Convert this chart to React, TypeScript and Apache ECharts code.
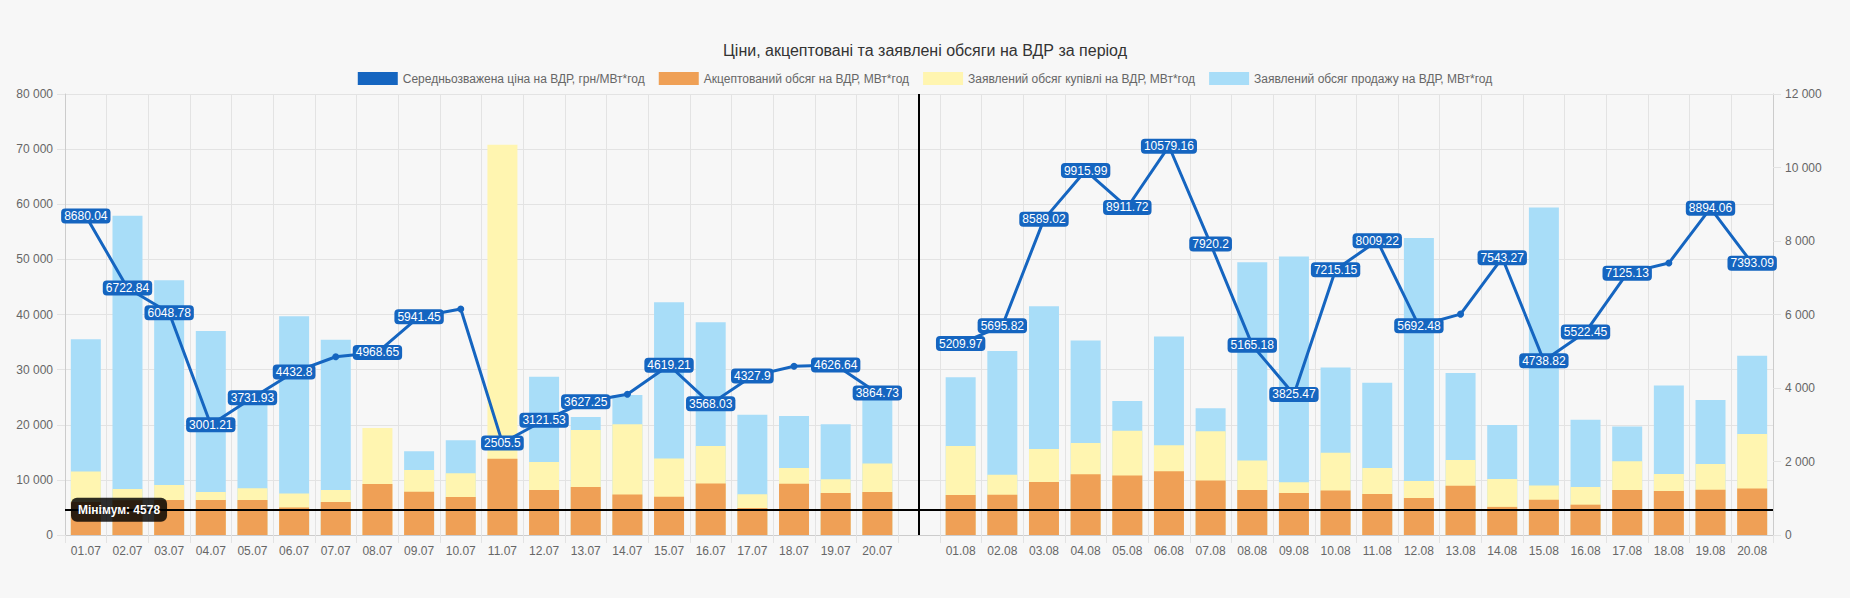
import * as echarts from "echarts";
import React, { useEffect, useRef } from "react";

const days = [
  "01.07", "02.07", "03.07", "04.07", "05.07", "06.07", "07.07", "08.07", "09.07", "10.07",
  "11.07", "12.07", "13.07", "14.07", "15.07", "16.07", "17.07", "18.07", "19.07", "20.07",
  "",
  "01.08", "02.08", "03.08", "04.08", "05.08", "06.08", "07.08", "08.08", "09.08", "10.08",
  "11.08", "12.08", "13.08", "14.08", "15.08", "16.08", "17.08", "18.08", "19.08", "20.08",
];

// середньозважена ціна, грн/МВт*год
const price = [
  8680.04, 6722.84, 6048.78, 3001.21, 3731.93, 4432.8, 4850, 4968.65, 5941.45, 6150,
  2505.5, 3121.53, 3627.25, 3830, 4619.21, 3568.03, 4327.9, 4590, 4626.64, 3864.73,
  null,
  5209.97, 5695.82, 8589.02, 9915.99, 8911.72, 10579.16, 7920.2, 5165.18, 3825.47, 7215.15,
  8009.22, 5692.48, 6010, 7543.27, 4738.82, 5522.45, 7125.13, 7400, 8894.06, 7393.09,
];
// points whose value label is not shown
const priceNoLabel = ["07.07", "10.07", "14.07", "18.07", "13.08", "18.08"];

const accepted = [
  6000, 6300, 6350, 6350, 6350, 5000, 6000, 9250, 7850, 6900,
  13850, 8150, 8700, 7350, 6950, 9350, 4900, 9300, 7600, 7800,
  null,
  7250, 7300, 9600, 11000, 10800, 11550, 9900, 8150, 7600, 8050,
  7450, 6700, 8950, 5100, 6400, 5500, 8150, 8000, 8200, 8450,
];

const buy = [
  11500, 8350, 9050, 7800, 8500, 7550, 8150, 19400, 11800, 11200,
  70800, 13250, 19050, 20100, 13900, 16150, 7400, 12150, 10100, 12950,
  null,
  16150, 10950, 15600, 16700, 18900, 16300, 18800, 13500, 9550, 14900,
  12150, 9800, 13600, 10150, 9000, 8700, 13400, 11050, 12900, 18300,
];

const sell = [
  35500, 57900, 46200, 37000, 25000, 39700, 35400, null, 15200, 17200,
  null, 28700, 21400, 25400, 42200, 38600, 21800, 21600, 20100, 26000,
  null,
  28600, 33400, 41500, 35300, 24300, 36000, 23000, 49500, 50500, 30400,
  27600, 53900, 29400, 19950, 59400, 20900, 19700, 27100, 24500, 32500,
];

const minVolume = 4578;

const names = [
  "Середньозважена ціна на ВДР, грн/МВт*год",
  "Акцептований обсяг на ВДР, МВт*год",
  "Заявлений обсяг купівлі на ВДР, МВт*год",
  "Заявлений обсяг продажу на ВДР, МВт*год",
];

const fontFamily = "'Liberation Sans', Arial, sans-serif";
const gridColor = "#e3e3e3";

const spaced = (v: number) => String(v).replace(/\B(?=(\d{3})+(?!\d))/g, " ");

const App: React.FC = () => {
  const chartRef = useRef<HTMLDivElement | null>(null);

  useEffect(() => {
    document.body.style.margin = "0";
    if (!chartRef.current) return;
    const chart = echarts.init(chartRef.current, undefined, { renderer: "svg" });

    const option: echarts.EChartsOption = {
      animation: false,
      backgroundColor: "#f7f7f7",
      textStyle: { fontFamily },
      title: {
        text: "Ціни, акцептовані та заявлені обсяги на ВДР за період",
        left: "center",
        top: 42,
        padding: 0,
        textStyle: { fontSize: 16, fontWeight: "normal", color: "#333", fontFamily },
      },
      legend: {
        top: 72,
        padding: 0,
        icon: "rect",
        itemWidth: 40,
        itemHeight: 13,
        itemGap: 14,
        data: names,
        textStyle: { fontSize: 12, color: "#666", fontFamily },
      },
      grid: { left: 65, right: 77, top: 94, bottom: 63 },
      xAxis: {
        type: "category",
        data: days,
        boundaryGap: true,
        axisLine: { lineStyle: { color: "#ccc" } },
        axisTick: { show: true, length: 8, lineStyle: { color: gridColor } },
        splitLine: { show: true, lineStyle: { color: gridColor } },
        axisLabel: { interval: 0, fontSize: 12, color: "#666", margin: 10 },
      },
      yAxis: [
        {
          type: "value",
          min: 0,
          max: 80000,
          interval: 10000,
          axisLine: { show: true, lineStyle: { color: "#ccc" } },
          axisTick: { show: true, length: 8, lineStyle: { color: gridColor } },
          splitLine: { lineStyle: { color: gridColor } },
          axisLabel: { fontSize: 12, color: "#666", margin: 12, formatter: (v: number) => spaced(v) },
        },
        {
          type: "value",
          min: 0,
          max: 12000,
          interval: 2000,
          axisLine: { show: true, lineStyle: { color: "#ccc" } },
          axisTick: { show: true, length: 8, lineStyle: { color: gridColor } },
          splitLine: { show: false },
          axisLabel: { fontSize: 12, color: "#666", margin: 12, formatter: (v: number) => spaced(v) },
        },
      ],
      series: [
        {
          name: names[0],
          type: "line",
          yAxisIndex: 1,
          z: 10,
          data: price.map((v, i) => ({
            value: v === null ? "-" : v,
            label: { show: v !== null && !priceNoLabel.includes(days[i]) },
          })),
          connectNulls: false,
          color: "#1565c0",
          lineStyle: { width: 3, color: "#1565c0" },
          symbol: "circle",
          symbolSize: 7,
          showSymbol: true,
          itemStyle: { color: "#1565c0" },
          label: {
            show: true,
            position: "inside",
            color: "#fff",
            fontSize: 12,
            fontFamily,
            backgroundColor: "#1565c0",
            borderRadius: 4,
            padding: [2, 3, 1, 3],
            formatter: (p: any) => String(p.value),
          },
        },
        {
          name: names[1],
          type: "bar",
          yAxisIndex: 0,
          z: 4,
          barWidth: "72%",
          barGap: "-100%",
          data: accepted,
          color: "#efa056",
          itemStyle: { color: "#efa056" },
          markLine: {
            silent: true,
            symbol: "none",
            animation: false,
            data: [
              {
                yAxis: minVolume,
                lineStyle: { color: "#000", width: 2, type: "solid" },
                label: {
                  show: true,
                  position: "insideStart",
                  distance: [6, 0],
                  formatter: "Мінімум: " + minVolume,
                  color: "#fff",
                  fontWeight: "bold",
                  fontSize: 12,
                  fontFamily,
                  backgroundColor: "rgba(0,0,0,0.82)",
                  borderRadius: 6,
                  padding: [6, 7],
                },
              },
              {
                xAxis: 20,
                lineStyle: { color: "#000", width: 2, type: "solid" },
                label: { show: false },
              },
            ],
          },
        },
        {
          name: names[2],
          type: "bar",
          yAxisIndex: 0,
          z: 3,
          barWidth: "72%",
          barGap: "-100%",
          data: buy,
          color: "#fff5b0",
          itemStyle: { color: "#fff5b0" },
        },
        {
          name: names[3],
          type: "bar",
          yAxisIndex: 0,
          z: 2,
          barWidth: "72%",
          barGap: "-100%",
          data: sell,
          color: "#a8ddf8",
          itemStyle: { color: "#a8ddf8" },
        },
      ],
    };

    chart.setOption(option);

    const handleResize = () => chart.resize();
    window.addEventListener("resize", handleResize);
    return () => {
      window.removeEventListener("resize", handleResize);
      chart.dispose();
    };
  }, []);

  return <div ref={chartRef} style={{ width: "100vw", height: "598px" }} />;
};

export default App;
